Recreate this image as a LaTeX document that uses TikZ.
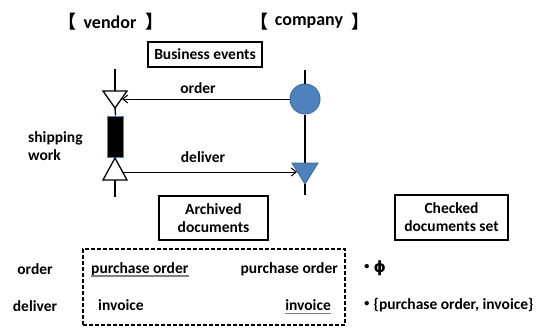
\documentclass[tikz,border=0pt]{standalone}
\usepackage{fontspec}
\setmainfont{Carlito}
\newfontfamily\cjk{Noto Sans CJK JP}
\newfontfamily\dejavu{DejaVu Sans}
\usetikzlibrary{arrows.meta}
\definecolor{boxblue}{HTML}{4F81BD}
\definecolor{edgeblue}{HTML}{41719C}
\newcommand{\mydot}{\hspace*{-5pt}{\cjk ・}\hspace{-1pt}}
\begin{document}
\begin{tikzpicture}[x=1pt,y=-1pt,
  txt/.style={font=\fontsize{15.5}{18}\selectfont\bfseries, inner sep=0pt},
  head/.style={font=\fontsize{18}{21}\selectfont\bfseries, inner sep=0pt},
  framed/.style={draw, line width=1.3pt, inner sep=0pt, align=center, font=\fontsize{15.5}{18}\selectfont\bfseries},
  ln/.style={line width=1.3pt},
  arr/.style={line width=1pt, -{Straight Barb[length=5pt,width=8pt,line width=1pt]}},
  ul/.style={gray, line width=1.6pt}]
\useasboundingbox (0,0) rectangle (545,327);
% headings
\node[head] (vb1) at (67,22) {\cjk 【};
\node[head] (vt) at (110,22) {vendor};
\node[head] (vb2) at (154,22) {\cjk 】};
\node[head] (cb1) at (259,22) {\cjk 【};
\node[head] (ct) at (309,22) {company};
\node[head] (cb2) at (360,22) {\cjk 】};
% boxes
\node[framed, minimum width=114, minimum height=25] (be) at (205,54.5) {Business events};
\node[framed, minimum width=109, minimum height=44] (ad) at (213.5,218) {Archived\\documents};
\node[framed, minimum width=113, minimum height=45] (cd) at (451.5,217.5) {Checked\\documents set};
% vendor lifeline
\coordinate (vtop) at (115,69);
\coordinate (vt1) at (115,91);
\coordinate (vt1b) at (115,108);
\draw[ln] (vtop) -- (vt1);
\draw[ln, fill=white] (103,91) -- (127,91) -- (vt1b) -- cycle;
\node[draw=boxblue, fill=black, line width=1pt, minimum width=16, minimum height=41, inner sep=0pt] (work) at (115.5,136.5) {};
\draw[ln] (vt1b) -- (work.north);
\coordinate (vt2) at (115,158);
\draw[ln, fill=white] (vt2) -- (103,180) -- (127,180) -- cycle;
\coordinate (vt2b) at (115,180);
\coordinate (vbot) at (115,197);
\draw[ln] (vt2b) -- (vbot);
% company lifeline
\coordinate (ctop) at (305,70);
\node[circle, fill=boxblue, draw=edgeblue, line width=1pt, minimum size=30, inner sep=0pt] (circ) at (305,99) {};
\draw[ln] (ctop) -- (circ.north);
\coordinate (ct1) at (305,163);
\draw[ln] (circ.south) -- (ct1);
\draw[fill=boxblue, draw=edgeblue, line width=1pt] (292,163) -- (318,163) -- (305,184) -- cycle;
\coordinate (ct1b) at (305,184);
\coordinate (cbot) at (305,195);
\draw[ln] (ct1b) -- (cbot);
% messages
\coordinate (ordtip) at (122,99);
\draw[arr] (circ.west) -- (ordtip);
\node[txt] (ordl) at (198,88) {order};
\coordinate (delstart) at (123,172);
\coordinate (deltip) at (297,172);
\draw[arr] (delstart) -- (deltip);
\node[txt] (dell) at (203,157) {deliver};
\node[txt, align=left, anchor=west] (shw) at (28,146) {shipping\\work};
% table
\node[draw, dash pattern=on 4pt off 2pt, line width=1.3pt, minimum width=262, minimum height=76, inner sep=0pt] (dbox) at (214,287) {};
\node[txt] (r1) at (35,269) {order};
\node[txt] (r2) at (35,306) {deliver};
\node[txt, anchor=west] (po1) at (91,269) {purchase order};
\draw[ul] ([yshift=-3pt]po1.base west) -- ([yshift=-3pt]po1.base east);
\node[txt, anchor=east] (po2) at (338,269) {purchase order};
\node[txt, anchor=west] (iv1) at (98,305) {invoice};
\node[txt, anchor=east] (iv2) at (331,305) {invoice};
\draw[ul] ([yshift=-3pt]iv2.base west) -- ([yshift=-3pt]iv2.base east);
\node[txt, anchor=west] (phi) at (364,268) {\mydot{\dejavu\bfseries ϕ}};
\node[txt, anchor=west] (set) at (364,305) {\mydot\{purchase order, invoice\}};
\end{tikzpicture}
\end{document}
